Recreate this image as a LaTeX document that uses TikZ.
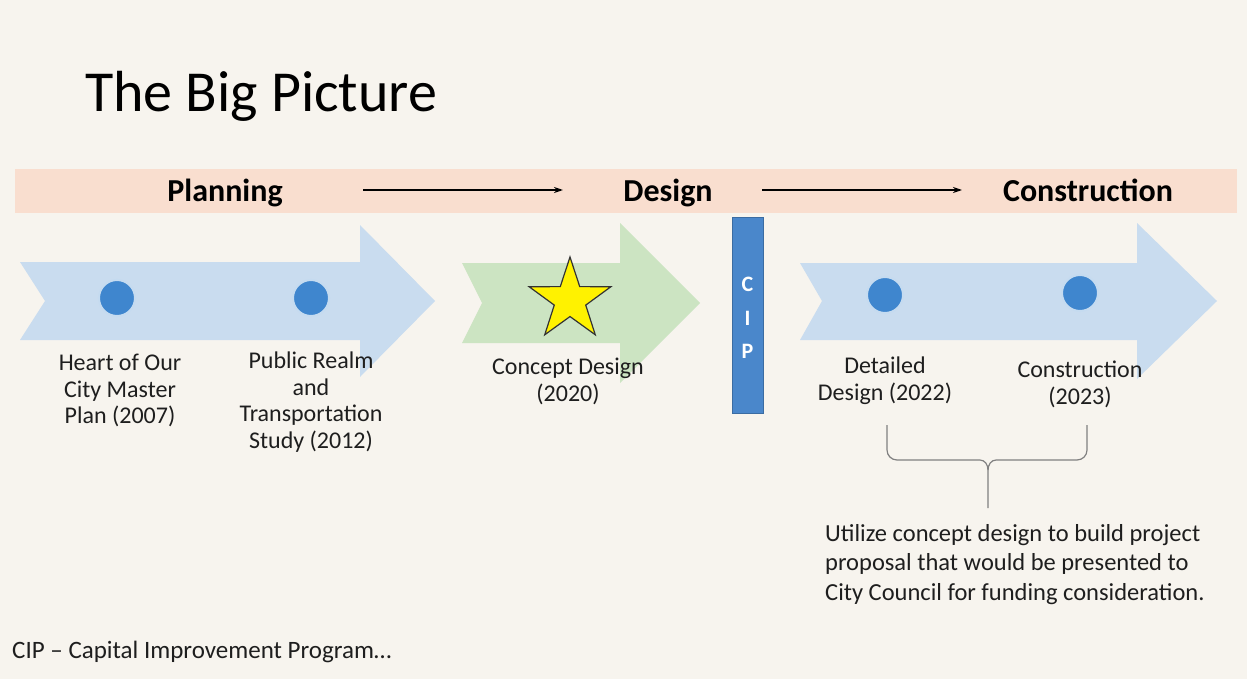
\documentclass[tikz,border=0pt]{standalone}
\usepackage{fontspec}
\setmainfont{Carlito}
\usetikzlibrary{shapes.geometric,arrows.meta}
\definecolor{bg}{HTML}{F7F4EE}
\definecolor{band}{HTML}{F9DECF}
\definecolor{arrowblue}{HTML}{C9DCEF}
\definecolor{arrowgreen}{HTML}{CCE4C2}
\definecolor{dotblue}{HTML}{3F86CE}
\definecolor{cipblue}{HTML}{4A87CB}
\definecolor{txt}{HTML}{1E1E1E}
\tikzset{
  head/.style={font=\fontsize{32}{36}\selectfont\bfseries, text=black, inner sep=0pt, anchor=base},
  lbl/.style={font=\fontsize{24}{26.5}\selectfont, text=txt, align=center, inner sep=0pt, anchor=north},
  dot/.style={circle, fill=dotblue, draw=white!70!dotblue, line width=2pt, minimum size=36pt, inner sep=0pt},
  flow/.style={-{Stealth[length=9pt,width=6pt]}, line width=1.6pt, black},
  brace/.style={draw=gray, line width=1.2pt},
  cipl/.style={font=\fontsize{22}{24}\selectfont\bfseries, text=white, inner sep=0pt},
}
\begin{document}
\begin{tikzpicture}[x=1pt,y=-1pt]
\fill[bg] (0,0) rectangle (1247,679);
\useasboundingbox (0,0) rectangle (1247,679);
% band
\fill[band] (15,169) rectangle (1237,213);
% title
\node[anchor=base west, font=\fontsize{58}{62}\selectfont, inner sep=0pt] (title) at (85,112) {The Big Picture};
% header
\node[head] (plan) at (225,201) {Planning};
\node[head] (des) at (668,201) {Design};
\node[head] (cons) at (1088,201) {Construction};
\coordinate (a1s) at (363,190); \coordinate (a1e) at (563,190);
\coordinate (a2s) at (762,190); \coordinate (a2e) at (962,190);
\draw[flow] (a1s) -- (a1e);
\draw[flow] (a2s) -- (a2e);
% arrows
\fill[arrowblue] (20,262) -- (360,262) -- (360,225) -- (435,301) -- (360,377) -- (360,340) -- (20,340) -- (45,301) -- cycle;
\fill[arrowgreen] (462,263) -- (620,263) -- (620,223) -- (700,303) -- (620,383) -- (620,343) -- (462,343) -- (482,303) -- cycle;
\fill[arrowblue] (800,263) -- (1137,263) -- (1137,223) -- (1217,301) -- (1137,379) -- (1137,340) -- (800,340) -- (822,301) -- cycle;
% dots
\node[dot] (d1) at (117,298) {};
\node[dot] (d2) at (311,298) {};
\node[dot] (d3) at (885,295) {};
\node[dot] (d4) at (1080,293) {};
% star
\node[star, star points=5, star point ratio=2.6, minimum size=86pt, fill=yellow, draw=black!80, line width=1.2pt, inner sep=0pt] (st) at (570,300) {};
% CIP bar
\node[fill=cipblue, draw=cipblue!80!black, line width=0.8pt, minimum width=31pt, minimum height=196pt, inner sep=0pt] (cip) at (747.5,315) {};
\node[cipl] (cc) at (747.5,284) {C};
\node[cipl] (ci) at (747.5,318) {I};
\node[cipl] (cp) at (747.5,351) {P};
% labels
\node[lbl] (l1) at (120,354) {Heart of Our\\City Master\\Plan (2007)};
\node[lbl] (l2) at (311,352) {Public Realm\\and\\Transportation\\Study (2012)};
\node[lbl] (l3) at (568,358) {Concept Design\\(2020)};
\node[lbl] (l4) at (885,357) {Detailed\\Design (2022)};
\node[lbl] (l5) at (1080,361) {Construction\\(2023)};
% brace
\coordinate (bl) at (887,425);
\coordinate (br) at (1087,425);
\coordinate (bm) at (988,508);
\draw[brace] (bl) -- (887,450) to[out=-90,in=180] (897,460) -- (980,460) to[out=0,in=90] (988,470) -- (bm);
\draw[brace] (br) -- (1087,450) to[out=-90,in=0] (1077,460) -- (996,460) to[out=180,in=90] (988,470);
% note
\node[anchor=north west, font=\fontsize{24.5}{29.5}\selectfont, text=txt, align=left, inner sep=0pt] (note) at (825,524) {Utilize concept design to build project\\proposal that would be presented to\\City Council for funding consideration.};
\node[anchor=west, font=\fontsize{25}{28}\selectfont, text=txt, inner sep=0pt] (foot) at (12,652) {CIP – Capital Improvement Program…};
\end{tikzpicture}
\end{document}
